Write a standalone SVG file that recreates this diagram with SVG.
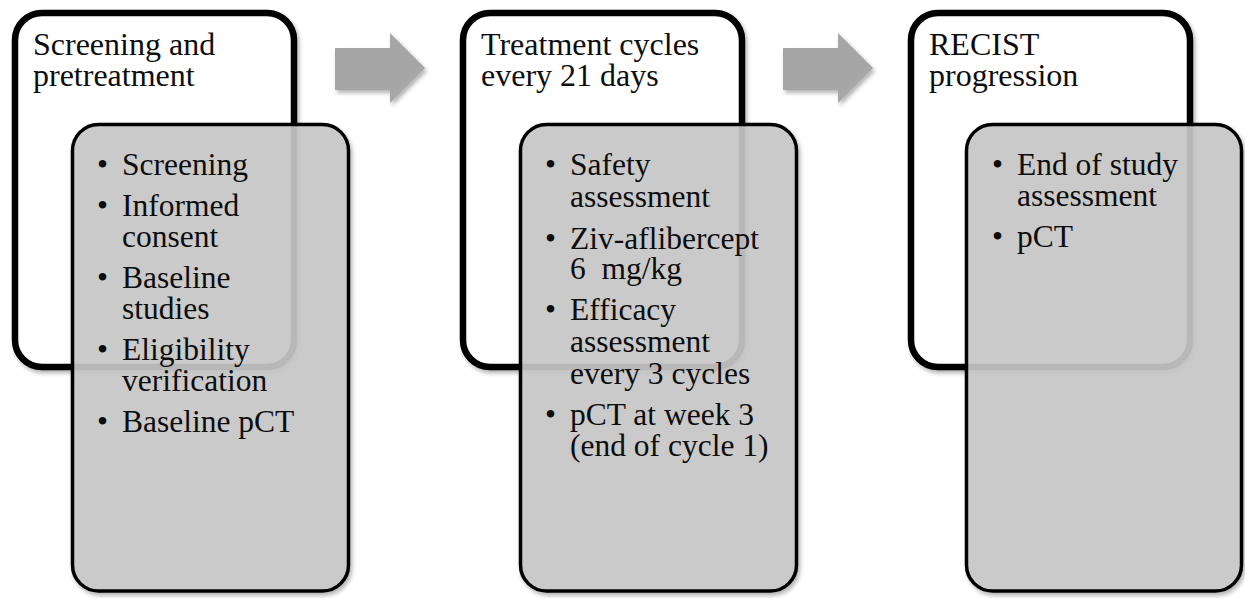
<svg xmlns="http://www.w3.org/2000/svg" width="1245" height="598" viewBox="0 0 1245 598" font-family="Liberation Serif, Times New Roman, serif">
  <style>
    .outer { fill: #ffffff; stroke: #000000; stroke-width: 6.5; }
    .inner { fill: #c9c9c9; fill-opacity: 0.9; stroke: #000000; stroke-width: 3.5; }
    .title { font-size: 32px; fill: #0d0d0d; }
    .item { font-size: 31.5px; fill: #0d0d0d; }
    .arrow { fill: #a6a6a6; }
  </style>
  <defs>
    <filter id="shadow" x="-10%" y="-10%" width="125%" height="125%">
      <feGaussianBlur in="SourceAlpha" stdDeviation="2"/>
      <feOffset dx="2" dy="3" result="b"/>
      <feComponentTransfer><feFuncA type="linear" slope="0.3"/></feComponentTransfer>
      <feMerge><feMergeNode/><feMergeNode in="SourceGraphic"/></feMerge>
    </filter>
  </defs>
  <rect width="1245" height="598" fill="#ffffff"/>

  <g id="connectors">
    <path class="arrow" filter="url(#shadow)" d="M335,48 H390 V33 L425,68 L390,103 V90 H335 Z"/>
    <path class="arrow" filter="url(#shadow)" d="M783,48 H838 V33 L873,68 L838,103 V90 H783 Z"/>
  </g>

  <g id="node-screening">
    <rect class="outer" filter="url(#shadow)" x="15" y="13" width="279" height="354" rx="27" ry="27"/>
    <text class="title"><tspan x="33" y="55">Screening and</tspan><tspan x="33" y="86">pretreatment</tspan></text>
    <rect class="inner" filter="url(#shadow)" x="72.5" y="124.5" width="276" height="466.5" rx="26" ry="26"/>
    <text class="item">
      <tspan x="97" y="175">•</tspan><tspan x="122" y="175">Screening</tspan>
      <tspan x="97" y="216">•</tspan><tspan x="122" y="216">Informed</tspan>
      <tspan x="122" y="247">consent</tspan>
      <tspan x="97" y="288">•</tspan><tspan x="122" y="288">Baseline</tspan>
      <tspan x="122" y="319">studies</tspan>
      <tspan x="97" y="360">•</tspan><tspan x="122" y="360">Eligibility</tspan>
      <tspan x="122" y="391">verification</tspan>
      <tspan x="97" y="432">•</tspan><tspan x="122" y="432">Baseline pCT</tspan>
    </text>
  </g>

  <g id="node-treatment">
    <rect class="outer" filter="url(#shadow)" x="463" y="13" width="279" height="354" rx="27" ry="27"/>
    <text class="title"><tspan x="481" y="55">Treatment cycles</tspan><tspan x="481" y="86">every 21 days</tspan></text>
    <rect class="inner" filter="url(#shadow)" x="520.5" y="124.5" width="276" height="466.5" rx="26" ry="26"/>
    <text class="item">
      <tspan x="545" y="175">•</tspan><tspan x="570" y="175">Safety</tspan>
      <tspan x="570" y="207">assessment</tspan>
      <tspan x="545" y="249">•</tspan><tspan x="570" y="249">Ziv-aflibercept</tspan>
      <tspan x="570" y="279">6&#160; mg/kg</tspan>
      <tspan x="545" y="320">•</tspan><tspan x="570" y="320">Efficacy</tspan>
      <tspan x="570" y="352">assessment</tspan>
      <tspan x="570" y="384">every 3 cycles</tspan>
      <tspan x="545" y="425">•</tspan><tspan x="570" y="425">pCT at week 3</tspan>
      <tspan x="570" y="456">(end of cycle 1)</tspan>
    </text>
  </g>

  <g id="node-progression">
    <rect class="outer" filter="url(#shadow)" x="911" y="13" width="279" height="354" rx="27" ry="27"/>
    <text class="title"><tspan x="929" y="55">RECIST</tspan><tspan x="929" y="86">progression</tspan></text>
    <rect class="inner" filter="url(#shadow)" x="966.5" y="124.5" width="275" height="466.5" rx="26" ry="26"/>
    <text class="item">
      <tspan x="992" y="175">•</tspan><tspan x="1017" y="175">End of study</tspan>
      <tspan x="1017" y="206">assessment</tspan>
      <tspan x="992" y="247">•</tspan><tspan x="1017" y="247">pCT</tspan>
    </text>
  </g>
</svg>
